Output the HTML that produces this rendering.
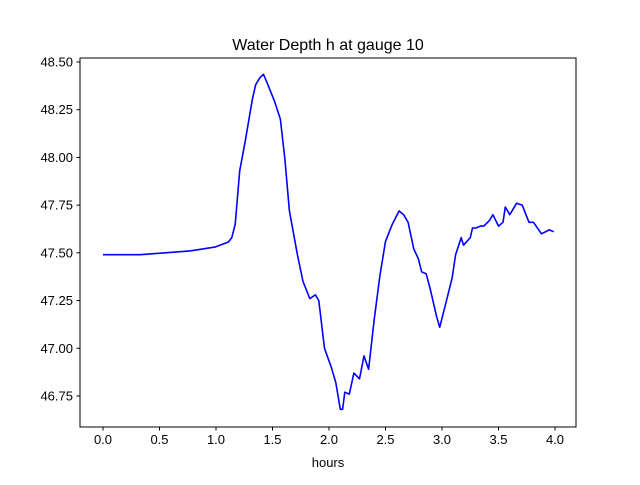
<!DOCTYPE html>
<html><head><meta charset="utf-8"><style>
body{margin:0;background:#fff;}
svg text{font-family:"Liberation Sans","DejaVu Sans",sans-serif;}
</style></head><body>
<svg id="chart" width="640" height="480" viewBox="0 0 640 480">
<rect width="640" height="480" fill="#fff"/>
<text x="328" y="50" font-size="16" text-anchor="middle">Water Depth h at gauge 10</text>
<g id="plot"></g>
<rect x="80" y="58" width="496" height="369" fill="none" stroke="#000" stroke-width="1"/>
<text x="328" y="467" font-size="13" text-anchor="middle">hours</text>
</svg>
<script>
const hours=[0,0.33,0.77,0.99,1.11,1.14,1.17,1.21,1.26,1.32,1.35,1.39,1.42,1.46,1.52,1.57,1.61,1.65,1.72,1.77,1.83,1.88,1.91,1.96,2.02,2.06,2.10,2.12,2.14,2.18,2.22,2.27,2.31,2.35,2.40,2.45,2.50,2.56,2.62,2.66,2.70,2.75,2.79,2.82,2.86,2.90,2.95,2.98,3.04,3.09,3.12,3.17,3.19,3.25,3.27,3.30,3.34,3.37,3.42,3.45,3.50,3.54,3.56,3.60,3.66,3.71,3.77,3.81,3.88,3.95,3.99];
const depth=[47.49,47.49,47.51,47.53,47.557,47.58,47.65,47.93,48.09,48.30,48.38,48.42,48.435,48.38,48.29,48.20,47.99,47.72,47.49,47.35,47.26,47.28,47.25,47.00,46.90,46.82,46.68,46.68,46.77,46.76,46.87,46.84,46.96,46.89,47.15,47.38,47.56,47.65,47.72,47.70,47.66,47.52,47.47,47.40,47.39,47.30,47.17,47.11,47.25,47.37,47.49,47.58,47.54,47.58,47.63,47.63,47.64,47.64,47.67,47.70,47.64,47.66,47.74,47.70,47.76,47.75,47.66,47.66,47.60,47.62,47.61];
const xTicks=[0,0.5,1,1.5,2,2.5,3,3.5,4];
const xTickLabels=["0.0","0.5","1.0","1.5","2.0","2.5","3.0","3.5","4.0"];
const yTicks=[46.75,47.00,47.25,47.50,47.75,48.00,48.25,48.50];
const yTickLabels=["46.75","47.00","47.25","47.50","47.75","48.00","48.25","48.50"];
const NS="http://www.w3.org/2000/svg";
const X=v=>103+v*113;
const Y=v=>62+(48.5-v)*190.84;
const g=document.getElementById('plot');
function mk(t,a){const e=document.createElementNS(NS,t);for(const k in a)e.setAttribute(k,a[k]);return e;}
xTicks.forEach((t,i)=>{
  const l=mk('line',{x1:X(t),x2:X(t),y1:427,y2:430.5,stroke:'#000'});
  
  
  g.appendChild(l);
  const tx=mk('text',{x:X(t),y:444,'font-size':13,'text-anchor':'middle'});
  tx.textContent=xTickLabels[i];
  
  
  g.appendChild(tx);
});
yTicks.forEach((t,i)=>{
  const l=mk('line',{x1:76.5,x2:80,y1:Y(t),y2:Y(t),stroke:'#000'});
  
  
  g.appendChild(l);
  const tx=mk('text',{x:73,y:Y(t)+4.5,'font-size':13,'text-anchor':'end'});
  tx.textContent=yTickLabels[i];
  
  
  g.appendChild(tx);
});
const pts=hours.map((h,i)=>X(h).toFixed(1)+','+Y(depth[i]).toFixed(1)).join(' ');
const pl=mk('polyline',{points:pts,fill:'none',stroke:'#0000ff','stroke-width':1.6,'stroke-linejoin':'round'});


g.appendChild(pl);
</script>
</body></html>
